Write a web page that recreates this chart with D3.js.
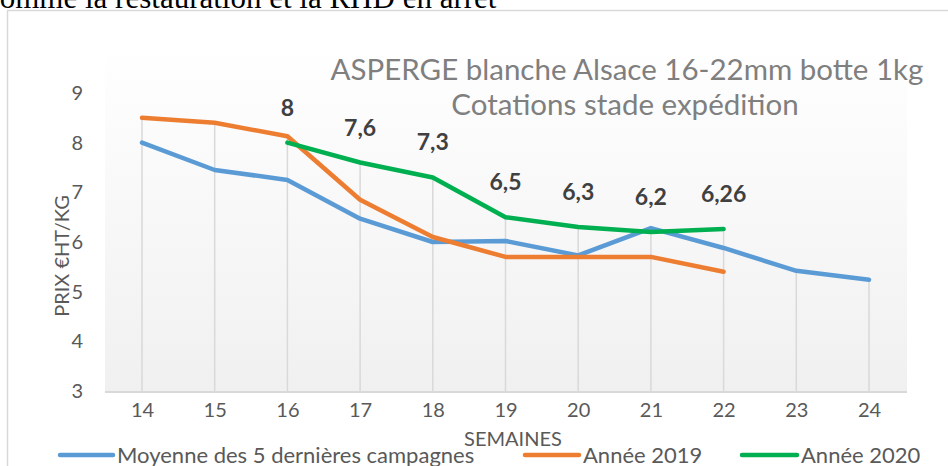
<!DOCTYPE html>
<html>
<head>
<meta charset="utf-8">
<script src="https://cdn.jsdelivr.net/npm/d3@7.9.0/dist/d3.min.js"></script>
<style>
  body { margin: 0; background: #fff; }
  svg { display: block; }
</style>
</head>
<body>
<svg id="chart" width="948" height="466"></svg>
<script>
const weeks = [14, 15, 16, 17, 18, 19, 20, 21, 22, 23, 24];
const moyenne = [8.0, 7.45, 7.25, 6.47, 6.0, 6.02, 5.73, 6.28, 5.88, 5.42, 5.24];
const annee2019 = [8.5, 8.4, 8.13, 6.85, 6.1, 5.7, 5.7, 5.7, 5.4, null, null];
const annee2020 = [null, null, 8, 7.6, 7.3, 6.5, 6.3, 6.2, 6.26, null, null];
const labels2020 = [null, null, '8', '7,6', '7,3', '6,5', '6,3', '6,2', '6,26', null, null];
const yTicks = [3, 4, 5, 6, 7, 8, 9];

const series = [
  { name: 'Moyenne des 5 dernières campagnes', values: moyenne, color: '#5b9bd5' },
  { name: 'Année 2019', values: annee2019, color: '#ed7d31' },
  { name: 'Année 2020', values: annee2020, color: '#00b050' }
];

const font = 'Lato, "Open Sans", sans-serif';
const svg = d3.select('#chart');

const x = d3.scalePoint().domain(weeks).range([142, 869]);
const y = d3.scaleLinear().domain([3, 9]).range([391, 93]);

// text above the chart (cut off by the page)
svg.append('text')
  .attr('x', -14).attr('y', 8)
  .attr('font-family', '"Liberation Serif", serif')
  .attr('font-size', 31)
  .attr('fill', '#000')
  .text('comme la restauration et la RHD en arrêt');

// chart frame
svg.append('rect')
  .attr('x', 7.5).attr('y', 10.5)
  .attr('width', 1000).attr('height', 500)
  .attr('fill', '#fff')
  .attr('stroke', '#d9d9d9')
  .attr('stroke-width', 1.5);

// plot background gradient
const grad = svg.append('defs').append('linearGradient')
  .attr('id', 'bg').attr('x1', 0).attr('y1', 0).attr('x2', 0).attr('y2', 1);
grad.append('stop').attr('offset', '0%').attr('stop-color', '#ffffff');
grad.append('stop').attr('offset', '55%').attr('stop-color', '#f7f7f7');
grad.append('stop').attr('offset', '100%').attr('stop-color', '#f0f0f0');

svg.append('rect')
  .attr('x', 105).attr('y', 40)
  .attr('width', 802).attr('height', y(3) - 40)
  .attr('fill', 'url(#bg)');

// floor
svg.append('line')
  .attr('x1', 105).attr('x2', 907)
  .attr('y1', y(3) + 1).attr('y2', y(3) + 1)
  .attr('stroke', '#d9d9d9').attr('stroke-width', 2);

// drop lines from highest point to the floor
weeks.forEach((w, i) => {
  const top = d3.max(series, s => s.values[i]);
  svg.append('line')
    .attr('x1', x(w)).attr('x2', x(w))
    .attr('y1', y(top)).attr('y2', y(3))
    .attr('stroke', '#d9d9d9').attr('stroke-width', 1.5);
});

// y axis labels
const yAxis = svg.append('g')
  .attr('transform', 'translate(83,0)')
  .call(d3.axisLeft(y).tickValues(yTicks).tickFormat(d3.format('d')).tickSize(0).tickPadding(0));
yAxis.select('.domain').remove();
yAxis.selectAll('text')
  .attr('font-family', font).attr('font-size', 20)
  .attr('fill', '#595959');

// x axis labels
const xAxis = svg.append('g')
  .attr('transform', `translate(0,${y(3) + 12})`)
  .call(d3.axisBottom(x).tickSize(0).tickPadding(0));
xAxis.select('.domain').remove();
xAxis.selectAll('text')
  .attr('font-family', font).attr('font-size', 20)
  .attr('fill', '#595959');

// axis titles
svg.append('text')
  .attr('transform', 'translate(69,256) rotate(-90)')
  .attr('text-anchor', 'middle')
  .attr('font-family', font).attr('font-size', 20)
  .attr('fill', '#595959')
  .text('PRIX €HT/KG');

svg.append('text')
  .attr('x', 513).attr('y', 446)
  .attr('text-anchor', 'middle')
  .attr('font-family', font).attr('font-size', 20)
  .attr('fill', '#595959')
  .text('SEMAINES');

// chart title
svg.append('text')
  .attr('x', 627).attr('y', 80)
  .attr('text-anchor', 'middle')
  .attr('font-family', font).attr('font-size', 29.5)
  .attr('fill', '#7f7f7f')
  .text('ASPERGE blanche Alsace 16-22mm botte 1kg');
svg.append('text')
  .attr('x', 625).attr('y', 115)
  .attr('text-anchor', 'middle')
  .attr('font-family', font).attr('font-size', 29.5)
  .attr('fill', '#7f7f7f')
  .text('Cotations stade expédition');

// lines
const line = d3.line()
  .defined(d => d.v != null)
  .x(d => x(d.w))
  .y(d => y(d.v));

series.forEach(s => {
  svg.append('path')
    .datum(weeks.map((w, i) => ({ w, v: s.values[i] })))
    .attr('d', line)
    .attr('fill', 'none')
    .attr('stroke', s.color)
    .attr('stroke-width', 4.5)
    .attr('stroke-linejoin', 'round')
    .attr('stroke-linecap', 'round');
});

// data labels for 2020
weeks.forEach((w, i) => {
  if (labels2020[i] == null) return;
  svg.append('text')
    .attr('x', x(w)).attr('y', y(annee2020[i]) - 27)
    .attr('text-anchor', 'middle')
    .attr('font-family', font).attr('font-size', 23)
    .attr('font-weight', 'bold')
    .attr('fill', '#404040')
    .text(labels2020[i]);
});

// legend
const legendItems = [
  { x: 60, w: 53 },
  { x: 525, w: 54 },
  { x: 742, w: 55 }
];
series.forEach((s, i) => {
  const it = legendItems[i];
  svg.append('line')
    .attr('x1', it.x).attr('x2', it.x + it.w)
    .attr('y1', 455).attr('y2', 455)
    .attr('stroke', s.color).attr('stroke-width', 4.5)
    .attr('stroke-linecap', 'round');
  svg.append('text')
    .attr('x', it.x + it.w + 4).attr('y', 463)
    .attr('font-family', font).attr('font-size', 22)
    .attr('fill', '#595959')
    .text(s.name);
});
</script>
</body>
</html>
